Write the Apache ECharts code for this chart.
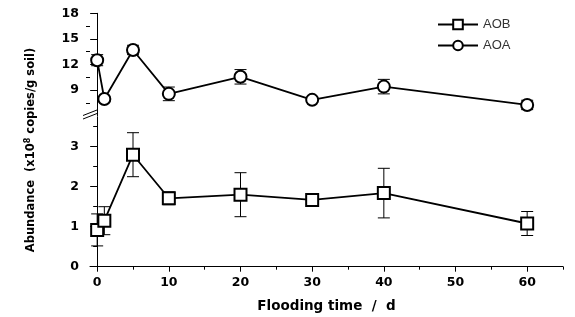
<!DOCTYPE html>
<html>
    <head>
        <meta charset="utf-8">
        <title>AOB / AOA abundance</title>
        <script src="https://cdn.jsdelivr.net/npm/echarts@6/dist/echarts.min.js"></script>
        <style>
            html, body { margin: 0; padding: 0; background: #fff; }
        </style>
    </head>
    <body>
        <div id="main" style="width:575px;height:317px;"></div>
        <script type="text/javascript">
            // data
            var days = [0, 1, 5, 10, 20, 30, 40, 60];
            var aob = [0.92, 1.15, 2.8, 1.71, 1.8, 1.67, 1.84, 1.08];
            var aobErr = [0.4, 0.35, 0.55, 0.16, 0.55, 0.08, 0.62, 0.3];
            var aoa = [12.5, 7.95, 13.7, 8.55, 10.55, 7.85, 9.4, 7.25];
            var aoaErr = [0.65, 0.25, 0.55, 0.8, 0.85, 0.3, 0.85, 0.55];

            // tick labels
            var xMajor = [0, 10, 20, 30, 40, 50, 60];
            var xMinor = [5, 15, 25, 35, 45, 55, 65];
            var upMajor = [9, 12, 15, 18];
            var upMinor = [7.5, 10.5, 13.5, 16.5];
            var lowMajor = [0, 1, 2, 3];
            var lowMinor = [0.5, 1.5, 2.5, 3.5];

            var myChart = echarts.init(document.getElementById('main'));

            function pairs(ys) {
                return days.map(function (d, i) { return [d, ys[i]]; });
            }
            function errRows(ys, es) {
                return days.map(function (d, i) { return [d, ys[i] - es[i], ys[i] + es[i]]; });
            }
            function renderErr(params, api) {
                var lo = api.coord([api.value(0), api.value(1)]);
                var hi = api.coord([api.value(0), api.value(2)]);
                var w = 6;
                var st = { stroke: '#000', lineWidth: 1 };
                return {
                    type: 'group',
                    children: [
                        { type: 'line', shape: { x1: lo[0], y1: lo[1], x2: hi[0], y2: hi[1] }, style: st },
                        { type: 'line', shape: { x1: lo[0] - w, y1: lo[1], x2: lo[0] + w, y2: lo[1] }, style: st },
                        { type: 'line', shape: { x1: hi[0] - w, y1: hi[1], x2: hi[0] + w, y2: hi[1] }, style: st }
                    ]
                };
            }

            var lbl = { color: '#000', fontWeight: 'bold', fontSize: 12.5, fontFamily: 'DejaVu Sans' };
            var axLine = { show: true, lineStyle: { color: '#000', width: 1 } };

            function yAx(grid, min, max, major, minor) {
                return [{
                    type: 'value', gridIndex: grid, position: 'left', min: min, max: max,
                    axisLine: axLine,
                    axisTick: { show: true, length: 7, customValues: major, lineStyle: { color: '#000' } },
                    axisLabel: Object.assign({ margin: 11, customValues: major }, lbl),
                    splitLine: { show: false }
                }, {
                    type: 'value', gridIndex: grid, position: 'left', min: min, max: max,
                    axisLine: { show: false },
                    axisTick: { show: true, length: 4, customValues: minor, lineStyle: { color: '#000' } },
                    axisLabel: { show: false, customValues: minor },
                    splitLine: { show: false }
                }];
            }

            var option = {
                animation: false,
                grid: [
                    { left: 90, right: 12, top: 13.3, height: 102.3 },
                    { left: 90, right: 12, top: 116.7, height: 150 }
                ],
                legend: {
                    data: ['AOB', 'AOA'],
                    orient: 'vertical',
                    left: 437,
                    top: 18,
                    padding: 0,
                    itemWidth: 40,
                    itemHeight: 12,
                    itemGap: 8,
                    textStyle: { color: '#333', fontSize: 13, fontFamily: 'Liberation Sans' }
                },
                xAxis: [{
                    type: 'value', gridIndex: 0, min: -1, max: 65, show: false
                }, {
                    type: 'value', gridIndex: 1, min: -1, max: 65, position: 'bottom',
                    axisLine: { show: true, onZero: false, lineStyle: { color: '#000', width: 1 } },
                    axisTick: { show: true, length: 5, customValues: xMajor, lineStyle: { color: '#000' } },
                    axisLabel: Object.assign({ margin: 10, customValues: xMajor }, lbl),
                    splitLine: { show: false },
                    name: 'Flooding time  /  d',
                    nameLocation: 'middle',
                    nameGap: 33,
                    nameTextStyle: { color: '#000', fontWeight: 'bold', fontSize: 13.5, fontFamily: 'DejaVu Sans' }
                }, {
                    type: 'value', gridIndex: 1, min: -1, max: 65, position: 'bottom',
                    axisLine: { show: false, onZero: false },
                    axisTick: { show: true, length: 3, customValues: xMinor, lineStyle: { color: '#000' } },
                    axisLabel: { show: false, customValues: xMinor },
                    splitLine: { show: false }
                }],
                yAxis: yAx(0, 6, 18, upMajor, upMinor).concat(yAx(1, 0, 3.75, lowMajor, lowMinor)),
                graphic: [
                    { type: 'line', shape: { x1: 83, y1: 115.5, x2: 97, y2: 110 }, style: { stroke: '#000', lineWidth: 1 } },
                    { type: 'line', shape: { x1: 83, y1: 119, x2: 97, y2: 113.5 }, style: { stroke: '#000', lineWidth: 1 } },
                    {
                        type: 'text', x: 31, y: 150, rotation: Math.PI / 2,
                        style: {
                            text: '{a|Abundance  (x10}{s|8}{a| copies/g soil)}',
                            align: 'center', verticalAlign: 'middle',
                            rich: {
                                a: { fontSize: 11.5, fontWeight: 'bold', fontFamily: 'DejaVu Sans', fill: '#000' },
                                s: { fontSize: 8, fontWeight: 'bold', fontFamily: 'DejaVu Sans', fill: '#000', verticalAlign: 'top', padding: [0, 0, 6, 0] }
                            }
                        }
                    }
                ],
                series: [{
                    name: 'AOB err', type: 'custom', xAxisIndex: 1, yAxisIndex: 2, z: 1,
                    renderItem: renderErr, encode: { x: 0, y: [1, 2] },
                    data: errRows(aob, aobErr)
                }, {
                    name: 'AOA err', type: 'custom', xAxisIndex: 0, yAxisIndex: 0, z: 1,
                    renderItem: renderErr, encode: { x: 0, y: [1, 2] },
                    data: errRows(aoa, aoaErr)
                }, {
                    name: 'AOB', type: 'line', xAxisIndex: 1, yAxisIndex: 2, z: 3,
                    data: pairs(aob),
                    symbol: 'rect', symbolSize: 12,
                    lineStyle: { color: '#000', width: 1.8 },
                    itemStyle: { color: '#fff', borderColor: '#000', borderWidth: 2 }
                }, {
                    name: 'AOA', type: 'line', xAxisIndex: 0, yAxisIndex: 0, z: 3,
                    data: pairs(aoa),
                    symbol: 'circle', symbolSize: 12,
                    lineStyle: { color: '#000', width: 1.8 },
                    itemStyle: { color: '#fff', borderColor: '#000', borderWidth: 2 }
                }]
            };
            myChart.setOption(option);
        </script>
    </body>
</html>
